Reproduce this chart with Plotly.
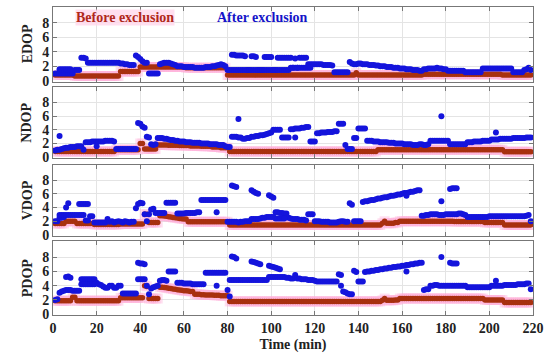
import plotly.graph_objects as go

N = None
t = list(range(1, 220))

# ---------------- EDOP ----------------
edop_after = ([1.0]*9 + [1.5]*3 + [3.2, 3.2, 3.1] + [2.5]*15 + [2.4, 2.4, 2.3, 2.3, 2.2, 2.2, 2.2]
              + [3.5, 3.3, 3.0] + [2.7, 2.5, 2.5] + [1.0]*5
              + [2.3, 2.4, 2.5, 2.5, 2.5, 2.4, 2.3, 2.2]
              + [2.0, 2.0, 2.0, 1.9, 1.9, 1.9, 1.9, 1.9, 1.8, 1.8, 1.8, 1.8, 1.8, 1.9, 1.9, 1.9, 2.0, 2.0, 2.1]
              + [2.2, 2.3, 2.2, 2.0] + [1.5, 1.5] + [3.6, 3.6, 3.5, 3.5, 3.5, 3.5, 3.4] + [1.5, 1.5]
              + [3.4, 3.4, 3.3] + [1.5]*3 + [3.3]*4 + [1.5]*2 + [3.2]*7 + [1.8] + [3.1] + [1.8] + [3.2]*4
              + [2.3]*7 + [2.2]*4 + [2.1] + [1.2]*7 + [2.6, 2.4, 2.3, 2.3]
              + [2.4, 2.4, 2.3, 2.3, 2.3, 2.2, 2.2, 2.2, 2.1, 2.1, 2.0, 2.0, 2.0, 1.9, 1.9, 1.9, 1.8, 1.8, 1.8,
                 1.7, 1.7, 1.7, 1.6, 1.6, 1.6, 1.5, 1.5, 1.5, 1.4, 1.4]
              + [1.6, 1.6, 1.7, 1.7, 1.7, 1.7, 1.8, 1.7, 1.7, 1.6, 1.6] + [1.4]*8 + [1.2]*8 + [1.7]*14
              + [1.2]*5 + [1.5, 1.6, 1.8, 1.5])
edop_after_2 = [N]*2 + [1.6]*6 + [N]*73 + [1.5]*27 + [1.8]*10 + [N]*101
edop_before = ([0.8]*9 + [0.65]*21 + [1.3]*9 + [1.9]*21 + [1.8]*19 + [0.8]*59 + [1.1]
               + [0.8]*30 + [0.9]*36 + [0.8]*14)

# ---------------- NDOP ----------------
ndop_after = ([1.0, 1.1, 1.1, 1.2, 1.3] + [1.4, 1.4, 1.5, 1.5, 1.5, 1.6, 1.6, 1.6, 1.1]
              + [2.2, 2.2, 2.2, 2.3, 2.3, 2.3, 2.3, 2.3, 2.3, 2.4, 2.4, 2.4, 2.4, 2.3] + [1.2]*10
              + [5.0, 4.9] + [4.5, 4.3] + [3.0, 2.9] + [1.9, 1.8, 1.9]
              + [2.8, 2.8, 2.8, 2.7, 2.7, 2.6, 2.5, 2.5, 2.4, 2.4, 2.3, 2.3, 2.3]
              + [2.2, 2.2, 2.2, 2.1, 2.1, 2.1, 2.1, 2.0, 2.0, 2.0, 2.0, 1.9, 1.9, 1.9, 1.9, 1.8, 1.8, 1.8]
              + [1.6, 1.5, 1.5] + [3.0, 3.0, 3.0, 2.9, 2.9] + [2.7, 2.7, 2.8, 2.8]
              + [3.0, 3.0, 3.1, 3.1, 3.2, 3.2, 3.3, 3.4, 3.5, 3.6]
              + [4.0]*4 + [2.9]*4 + [4.1, 4.1, 4.2, 4.2, 4.2, 4.3, 4.3, 4.4, 4.4] + [2.3]*3
              + [3.5, 3.5, 3.6, 3.6, 3.6, 3.7, 3.7, 3.7, 3.8, 3.8] + [4.9]*3 + [1.8] + [1.2]*3 + [2.8]*2 + [4.2]*4
              + [2.4, 2.4, 2.4, 2.3, 2.3, 2.3, 2.2, 2.2, 2.2, 2.2, 2.1, 2.1, 2.1, 2.0, 2.0, 2.0, 2.0, 1.9, 1.9, 1.9]
              + [1.9, 1.8, 1.8, 1.8, 1.9, 1.9, 1.8, 1.8, 1.9] + [2.4]*9 + [1.9]*8
              + [2.2, 2.2, 2.2, 2.3, 2.3, 2.3, 2.3, 2.4, 2.4, 2.4, 2.4]
              + [2.6, 2.6, 2.6, 2.6, 2.7, 2.7, 2.7, 2.7, 2.7, 2.7, 2.8, 2.8, 2.8, 2.8, 2.8, 2.8, 2.9, 2.9, 2.9])
ndop_after_2 = ([N]*2 + [3.1] + [N]*16 + [1.6] + [N]*64 + [5.6] + [N]*25 + [2.9] + [N]*66 + [6.0]
                + [N]*24 + [3.6] + [N]*16)
ndop_before = ([0.85]*28 + [1.1]*11 + [2.0]*2 + [1.2]*6
               + [1.8]*5 + [1.75]*5 + [1.7]*5 + [1.65]*5 + [1.6]*5 + [1.5]*4 + [1.4]*4
               + [0.85]*68 + [1.1]*58 + [0.8]*13)

# ---------------- VDOP ----------------
vdop_after = ([2.0, 2.0] + [2.5, 2.5, 2.6] + [4.0, 4.6] + [2.9]*4 + [4.5]*5 + [2.7, 2.7] + [1.8]*6 + [2.3]
              + [1.9, 2.0, 1.8, 1.9, 2.0, 1.9, 1.8, 2.0, 1.9, 1.8, 1.9, 1.9] + [3.9] + [4.5, 4.7, 4.6]
              + [3.0, 2.0, 3.0] + [3.7, 3.8] + [3.2]*5 + [4.7]*5
              + [3.1, 3.1, 3.1, 3.1, 3.2, 3.2, 3.2, 3.2, 3.2, 3.3, 3.3] + [5.1]*12 + [1.9, 1.9]
              + [7.2, 7.1, 7.0] + [1.8, 1.9, 1.9, 2.0, 2.0, 2.0] + [6.5, 6.3, 6.1, 6.0] + [2.4, 2.5, 2.5, 2.6]
              + [5.8, 5.6, 5.4] + [3.3, 3.3, 3.2, 3.2, 3.1, 3.1, 2.5, 2.4] + [2.3, 2.3, 2.3, 2.2, 2.2, 2.2, 2.1]
              + [3.0]*3 + [2.0, 2.0, 2.0, 1.9, 1.9, 1.9, 1.9, 1.8, 1.8, 1.8, 1.8, 1.9, 2.0, 2.0, 1.9, 1.9]
              + [4.6, 4.4] + [2.0]*4
              + [4.8, 4.9, 4.9, 5.0, 5.1, 5.1, 5.2, 5.3, 5.3, 5.4, 5.5, 5.5, 5.6, 5.7, 5.7, 5.8, 5.9, 5.9,
                 6.0, 6.1, 6.1, 6.2, 6.3, 6.3, 6.4, 6.5, 6.5]
              + [2.8, 2.8, 2.9, 2.9, 3.0, 3.0, 3.0, 3.0, 2.9, 2.9, 2.9, 3.0, 3.0] + [6.7, 6.8, 6.8, 6.8]
              + [3.1, 3.1, 3.0, 2.9] + [2.6]*10 + [2.7]*17 + [2.8, 2.9] + [2.0])
vdop_after_2 = ([N]*2 + [2.9]*5 + [N]*4 + [2.9]*3 + [2.1]*2 + [N]*58 + [3.3] + [N]*6 + [1.9]*3 + [N]*6
                + [2.3]*4 + [N]*4 + [2.6]*3 + [2.4]*5 + [N]*55 + [5.7] + [N]*15 + [4.9] + [N]*3
                + [3.0]*4 + [N]*34)
vdop_before = ([1.65]*5 + [2.0]*5 + [1.65]*8 + [1.5]*12 + [1.6]*11 + [3.0]*2 + [1.8]*5
               + [2.8, 2.8, 2.75, 2.7, 2.65, 2.6, 2.55, 2.5, 2.45, 2.4, 2.35, 2.3, 2.3]
               + [1.9]*19 + [1.45]*70 + [1.7, 2.0, 1.7, 1.7, 1.7, 1.7, 1.8, 1.8]
               + [2.0]*25 + [1.95]*14 + [1.8]*9 + [1.45]*13)

# ---------------- PDOP ----------------
pdop_after = ([2.0, 2.1] + [3.0, 3.2, 3.3] + [5.2, 5.3, 5.1] + [3.3]*4 + [4.9]*7 + [4.4]
              + [4.2, 4.1, 3.9, 3.7] + [3.7, 4.0, 4.0, 3.7, 3.7] + [4.0, 4.0] + [2.9]*7
              + [7.2, 7.1, 7.1, 7.0] + [4.0, 2.8, 3.6] + [3.8, 3.9, 4.0] + [4.7, 4.8, 4.8, 4.7] + [6.0]*4
              + [4.4, 4.4, 4.4, 4.3, 4.3, 4.3, 4.3, 4.2, 4.2, 4.2, 4.2, 4.2, 4.2] + [5.8]*10 + [3.4, 2.5]
              + [8.1, 8.0, 7.8] + [4.8]*6 + [7.4, 7.3, 7.2, 7.1, 7.0] + [4.8]*3
              + [6.8, 6.7, 6.6, 6.5, 6.4, 6.3] + [5.2, 5.2, 5.1, 5.1, 5.0, 5.0] + [5.5]
              + [5.0, 5.0, 4.9, 4.9, 4.9, 4.8, 4.8, 4.8, 4.7] + [4.6]*10 + [5.6, 5.5]
              + [3.2, 3.1, 2.9, 2.8, 2.8] + [6.1, 5.9] + [4.6]*3
              + [5.9, 6.0, 6.0, 6.1, 6.1, 6.2, 6.2, 6.3, 6.3, 6.4, 6.4, 6.5, 6.5, 6.6, 6.6, 6.7, 6.7, 6.8,
                 6.8, 6.9, 6.9, 7.0, 7.0, 7.1, 7.1, 7.2, 7.2]
              + [3.4, 3.5, 3.5] + [4.0, 4.0, 4.1, 4.1, 4.0, 4.0, 4.0, 4.0, 4.0] + [7.2, 7.1, 7.1, 7.1]
              + [4.0]*4 + [3.8]*11 + [4.0]*6 + [4.1]*6 + [4.2]*4 + [4.3]*2 + [3.5])
pdop_after_2 = ([N]*5 + [3.4]*3 + [N]*4 + [4.2]*7 + [N]*19 + [4.9]*4 + [N]*32 + [4.0] + [N]*5
                + [4.8]*4 + [N]*6 + [4.8]*5 + [N]*3 + [5.2]*6 + [N]*27 + [4.0] + [N]*29 + [6.0]
                + [N]*15 + [8.0] + [N]*3 + [4.0]*4 + [N]*17 + [4.7] + [N]*16)
pdop_before = ([1.9]*8 + [2.4]*2 + [1.9]*20 + [2.3]*11 + [4.0, 3.9] + [2.2]*5
               + [3.8, 3.8, 3.75, 3.7, 3.65, 3.6, 3.55, 3.5, 3.45, 3.4, 3.35, 3.3, 3.3, 3.25, 3.2, 3.2]
               + [2.8, 2.8, 2.8, 2.75, 2.75, 2.7, 2.7, 2.7, 2.7, 2.65, 2.65, 2.65, 2.6, 2.6, 2.6, 2.6]
               + [1.8]*70 + [1.95, 2.2, 1.95, 1.95, 1.95, 1.95, 2.0, 2.0] + [2.2]*39 + [2.0]*9 + [1.65]*13)

panels = [
    ("EDOP", edop_before, edop_after, edop_after_2),
    ("NDOP", ndop_before, ndop_after, ndop_after_2),
    ("VDOP", vdop_before, vdop_after, vdop_after_2),
    ("PDOP", pdop_before, pdop_after, pdop_after_2),
]
y_ticks = [0, 2, 4, 6, 8]
x_ticks = list(range(0, 221, 20))

BLUE = "#1414dc"
RED = "#a8300f"
PINK = "rgba(255,175,218,0.4)"
FONT = "Liberation Serif"

domains = [(0.758, 1.0), (0.51, 0.739), (0.258, 0.487), (0.0, 0.239)]

fig = go.Figure()
for i, (name, before, after, after2) in enumerate(panels):
    ya = "y" if i == 0 else f"y{i+1}"
    xa = "x" if i == 0 else f"x{i+1}"
    fig.add_trace(go.Scatter(x=t, y=before, mode="markers", xaxis=xa, yaxis=ya, showlegend=False,
                             marker=dict(symbol="square", size=10, color=PINK, line=dict(width=0)),
                             hoverinfo="skip"))
    fig.add_trace(go.Scatter(x=t, y=before, mode="markers", xaxis=xa, yaxis=ya, showlegend=False,
                             marker=dict(size=5.5, color=RED, line=dict(width=0)), name="Before exclusion"))
    fig.add_trace(go.Scatter(x=t + t, y=after + after2, mode="markers", xaxis=xa, yaxis=ya, showlegend=False,
                             marker=dict(size=6, color=BLUE, line=dict(width=0)), name="After exclusion"))

layout = dict(
    width=550, height=356,
    margin=dict(l=53, r=12, t=6, b=40),
    paper_bgcolor="white", plot_bgcolor="white",
    font=dict(family=FONT, size=13, color="#222"),
)
for i, (name, *_rest) in enumerate(panels):
    xk = "xaxis" if i == 0 else f"xaxis{i+1}"
    yk = "yaxis" if i == 0 else f"yaxis{i+1}"
    layout[xk] = dict(
        range=[0, 220], domain=[0, 1], anchor="y" if i == 0 else f"y{i+1}",
        tickvals=x_ticks, showticklabels=(i == 3), ticks="inside", ticklen=4,
        tickcolor="#777", showline=True, linecolor="#777", mirror="ticks", linewidth=1,
        showgrid=True, gridcolor="#e4e4e4", zeroline=False,
        tickfont=dict(family=FONT, size=14, color="#222", weight="bold"),
        matches="x" if i > 0 else None,
    )
    layout[yk] = dict(
        range=[-0.1, 10.2], domain=list(domains[i]), anchor="x" if i == 0 else f"x{i+1}",
        tickvals=y_ticks, ticks="inside", ticklen=4, tickcolor="#777",
        showline=True, linecolor="#777", mirror="ticks", linewidth=1,
        showgrid=True, gridcolor="#e4e4e4", zeroline=False,
        tickfont=dict(family=FONT, size=14, color="#222", weight="bold"),
    )
fig.update_layout(**layout)
fig.layout.xaxis4.title = dict(text="Time (min)", font=dict(family=FONT, size=14, color="#222", weight="bold"),
                               standoff=4)

for i, (name, *_rest) in enumerate(panels):
    lo, hi = domains[i]
    fig.add_annotation(text=f"<b>{name}</b>", xref="paper", yref="paper", x=-0.054, y=(lo + hi) / 2,
                       xanchor="center", yanchor="middle",
                       textangle=-90, showarrow=False, font=dict(family=FONT, size=14, color="#222"))

fig.add_annotation(text="<b>Before exclusion</b>", xref="x", yref="y", x=33, y=8.8, showarrow=False,
                   font=dict(family=FONT, size=14, color="#b0281a"), bgcolor="rgba(255,215,235,0.8)",
                   borderpad=0)
fig.add_annotation(text="<b>After exclusion</b>", xref="x", yref="y", x=96, y=8.8, showarrow=False,
                   font=dict(family=FONT, size=14, color="#1414c8"))

fig.write_html("out.html", config={"displayModeBar": False},
               post_script="document.body.style.margin='0';")
